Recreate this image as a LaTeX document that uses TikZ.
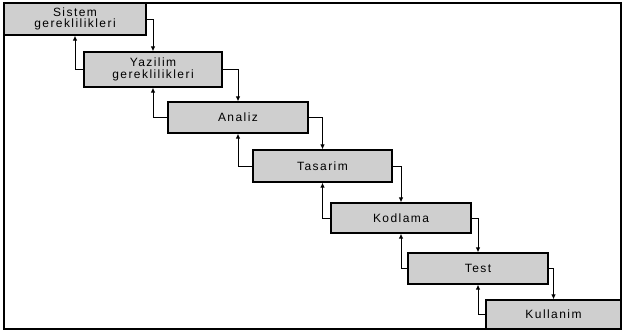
\documentclass[tikz,border=0pt]{standalone}
\usepackage{fontspec}
\setmainfont{Liberation Sans}[LetterSpace=12]
\usetikzlibrary{arrows.meta}
\begin{document}
\begin{tikzpicture}[x=1pt,y=-1pt,
  stage/.style={draw=black,line width=1.3pt,fill=gray!38,inner sep=0pt,
    align=center,font=\fontsize{12}{11.5}\selectfont},
  flow/.style={line width=0.9pt,-{Latex[length=5pt,width=4.5pt]}}]
\useasboundingbox (0,0) rectangle (623,333);
\draw[line width=1.3pt] (4,3) rectangle (621,329);
\node[stage,minimum width=142pt,minimum height=32pt] (b1) at (75,19) {Sistem\\gereklilikleri};
\node[stage,minimum width=138pt,minimum height=35pt] (b2) at (153,69.5) {Yazilim\\gereklilikleri};
\node[stage,minimum width=140pt,minimum height=31pt] (b3) at (238,117.5) {Analiz};
\node[stage,minimum width=139pt,minimum height=32pt] (b4) at (322.5,166) {Tasarim};
\node[stage,minimum width=140pt,minimum height=30pt] (b5) at (401,218) {Kodlama};
\node[stage,minimum width=140pt,minimum height=31pt] (b6) at (478,268.5) {Test};
\node[stage,minimum width=135pt,minimum height=29pt] (b7) at (553.5,314.5) {Kullanim};
\foreach \a/\b in {b1/b2,b2/b3,b3/b4,b4/b5,b5/b6,b6/b7}{
  \draw[flow] (\a.east) -| (\b.north);
  \draw[flow] (\b.west) -| (\a.south);
}
\end{tikzpicture}
\end{document}
